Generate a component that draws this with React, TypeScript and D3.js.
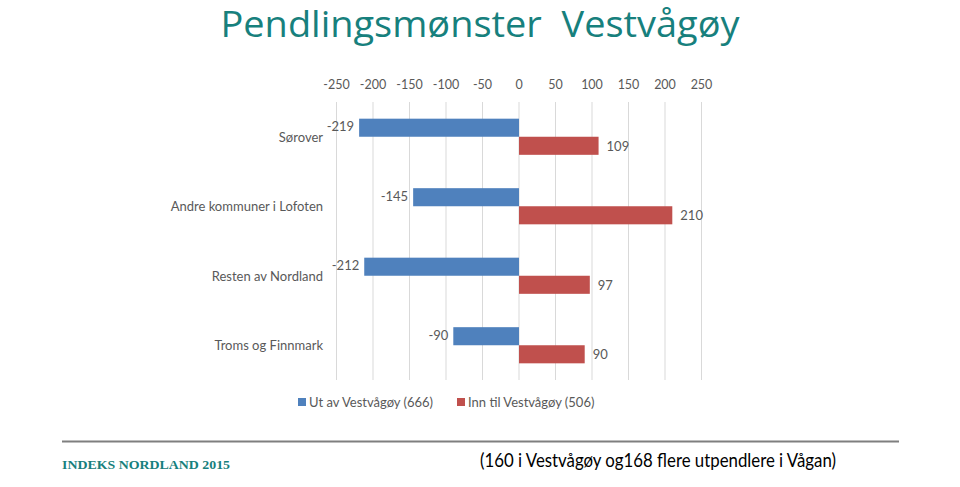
import React from 'react';
import * as d3 from 'd3';

const categories = ['Sørover', 'Andre kommuner i Lofoten', 'Resten av Nordland', 'Troms og Finnmark'];
const utValues = [-219, -145, -212, -90];
const innValues = [109, 210, 97, 90];
const ticks = [-250, -200, -150, -100, -50, 0, 50, 100, 150, 200, 250];
const seriesNames = ['Ut av Vestvågøy (666)', 'Inn til Vestvågøy (506)'];
const colors = ['#4F81BD', '#C0504D'];

const W = 960, H = 487;
const plotTop = 102, plotBottom = 380;
const x = d3.scaleLinear().domain([-250, 250]).range([336.5, 701.5]);
const y = d3.scaleBand<string>().domain(categories).range([plotTop, plotBottom]).paddingInner(0.48).paddingOuter(0.24);

export default function App() {
  const bw = y.bandwidth() / 2;
  const font = 'Lato, "Open Sans", sans-serif';
  return (
    <svg width={W} height={H} style={{ position: 'absolute', left: 0, top: 0, background: '#fff' }}>
      <rect width={W} height={H} fill="#fff" />
      <text x={480} y={37} textAnchor="middle" fontFamily='"Open Sans", Lato, sans-serif' fontSize={36} fill="#17807d"
        style={{ whiteSpace: 'pre' }} textLength={519} lengthAdjust="spacingAndGlyphs">Pendlingsmønster  Vestvågøy</text>
      {ticks.map(t => (
        <g key={t}>
          <line x1={x(t)} x2={x(t)} y1={plotTop} y2={plotBottom} stroke="#d9d9d9" strokeWidth={1} />
          <text x={x(t)} y={89} textAnchor="middle" fontFamily={font} fontSize={12.5} fill="#595959">{t}</text>
        </g>
      ))}
      {categories.map((c, i) => {
        const y0 = y(c)!;
        const u = utValues[i], v = innValues[i];
        return (
          <g key={c}>
            <text x={323} y={y0 + bw + 5} textAnchor="end" fontFamily={font} fontSize={13} fill="#595959">{c}</text>
            <rect x={x(u)} y={y0} width={x(0) - x(u)} height={bw} fill={colors[0]} />
            <rect x={x(0)} y={y0 + bw} width={x(v) - x(0)} height={bw} fill={colors[1]} />
            <text x={x(u) - 5} y={y0 + bw / 2 + 3.5} textAnchor="end" fontFamily={font} fontSize={13} fill="#595959">{u}</text>
            <text x={x(v) + 8} y={y0 + bw * 1.5 + 5} textAnchor="start" fontFamily={font} fontSize={13} fill="#595959">{v}</text>
          </g>
        );
      })}
      <g>
        <rect x={298} y={398} width={8} height={8} fill={colors[0]} />
        <text x={309} y={407} fontFamily={font} fontSize={13} fill="#595959">{seriesNames[0]}</text>
        <rect x={457} y={398} width={8} height={8} fill={colors[1]} />
        <text x={468} y={407} fontFamily={font} fontSize={13} fill="#595959">{seriesNames[1]}</text>
      </g>
      <line x1={62} x2={899} y1={441.5} y2={441.5} stroke="#7f7f7f" strokeWidth={2} />
      <text x={62} y={469} fontFamily='"Liberation Serif", "DejaVu Serif", serif' fontWeight="bold" fontSize={12.5}
        fill="#17807d" textLength={168} lengthAdjust="spacingAndGlyphs">INDEKS NORDLAND 2015</text>
      <text x={480} y={467} fontFamily={font} fontSize={19} fill="#000"
        textLength={356} lengthAdjust="spacingAndGlyphs">(160 i Vestvågøy og168 flere utpendlere i Vågan)</text>
    </svg>
  );
}
